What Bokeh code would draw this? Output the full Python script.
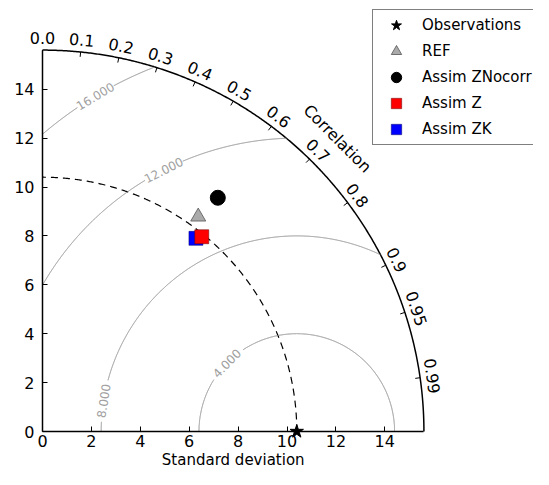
import numpy as np
from bokeh.plotting import figure
from bokeh.models import Range1d, FixedTicker, Legend, LegendItem, Label
from bokeh.core.properties import value
from bokeh.embed import file_html
from bokeh.resources import INLINE

# ---- data ----
obs_name = "Observations"
obs_std = 10.4
model_names = ["REF", "Assim ZNocorr", "Assim Z", "Assim ZK"]
model_std = [10.85, 11.95, 10.29, 10.09]
model_corr = [0.587, 0.600, 0.633, 0.622]
std_ticks = [0, 2, 4, 6, 8, 10, 12, 14]
corr_ticks = [0.0, 0.1, 0.2, 0.3, 0.4, 0.5, 0.6, 0.7, 0.8, 0.9, 0.95, 0.99]
corr_tick_labels = ["0.0", "0.1", "0.2", "0.3", "0.4", "0.5", "0.6", "0.7",
                    "0.8", "0.9", "0.95", "0.99"]
rms_levels = [4, 8, 12, 16]
rms_labels = ["4.000", "8.000", "12.000", "16.000"]
rms_label_pos_deg = [135.7, 171.0, 117.0, 121.0]  # where the contour labels sit

# ---- layout ----
FONT = "DejaVu Sans"
PX = 24.45
W, H = 533, 469
X0, Y0 = 42, 431          # pixel position of the origin inside the canvas
smax = 1.5 * obs_std

p = figure(width=W, height=H,
           x_range=Range1d(-X0 / PX, (W - X0) / PX),
           y_range=Range1d(-(H - Y0) / PX, Y0 / PX),
           output_backend="svg", toolbar_location=None,
           min_border_left=0, min_border_bottom=0,
           min_border_top=0, min_border_right=0)
p.grid.visible = False
p.outline_line_color = None
p.background_fill_color = "white"
p.border_fill_color = "white"

for ax in (p.xaxis[0], p.yaxis[0]):
    ax.fixed_location = 0
    ax.bounds = (0, smax)
    ax.ticker = FixedTicker(ticks=std_ticks)
    ax.major_tick_in = 5
    ax.major_tick_out = 0
    ax.minor_tick_in = 0
    ax.minor_tick_out = 0
    ax.axis_line_width = 1.5
    ax.major_tick_line_width = 1
    ax.major_label_text_font = FONT
    ax.major_label_text_font_size = "16px"
    ax.major_label_text_color = "black"
p.xaxis.major_label_standoff = 3
p.yaxis.major_label_standoff = 8

# outer arc
th = np.linspace(0, np.pi / 2, 400)
p.line(smax * np.cos(th), smax * np.sin(th), line_color="black", line_width=1.5)

# observation std arc
p.line(obs_std * np.cos(th), obs_std * np.sin(th), line_color="black",
       line_width=1.2, line_dash="7 5")

# RMS contours
ang = np.linspace(0, np.pi, 4001)
lx, ly, lang = [], [], []
for R, pos in zip(rms_levels, rms_label_pos_deg):
    x = obs_std + R * np.cos(ang)
    y = R * np.sin(ang)
    ok = (x >= 0) & (x ** 2 + y ** 2 <= smax ** 2)
    gap = 21.0 / (R * PX)
    ok &= np.abs(ang - np.radians(pos)) > gap
    xs = np.where(ok, x, np.nan)
    ys = np.where(ok, y, np.nan)
    p.line(xs, ys, line_color="#8a8a8a", line_width=1)
    a = np.radians(pos)
    lx.append(obs_std + R * np.cos(a))
    ly.append(R * np.sin(a))
    lang.append(a - np.pi / 2)
p.text(x=lx, y=ly, text=rms_labels, angle=lang, text_font=value(FONT),
       text_font_size="12px", text_color="#a0a0a0", text_align="center",
       text_baseline="middle")

# correlation ticks and labels
ct = np.arccos(np.array(corr_ticks))
p.segment(x0=smax * np.cos(ct), y0=smax * np.sin(ct),
          x1=(smax - 0.2) * np.cos(ct), y1=(smax - 0.2) * np.sin(ct),
          line_color="black", line_width=1)
rl = smax + 0.5
for t, lab in zip(ct, corr_tick_labels):
    p.add_layout(Label(x=rl * np.cos(t), y=rl * np.sin(t), text=lab,
                       angle=t - np.pi / 2, text_font=FONT, text_font_size="16px",
                       text_align="center", text_baseline="middle",
                       text_color="black"))
ca = np.radians(44.8)
p.add_layout(Label(x=17.0 * np.cos(ca), y=17.0 * np.sin(ca), text="Correlation",
                   angle=ca - np.pi / 2, text_font=FONT, text_font_size="16px",
                   text_align="center", text_baseline="middle", text_color="black"))
p.add_layout(Label(x=smax / 2, y=-(H - 1 - Y0) / PX, text="Standard deviation",
                   text_font=FONT, text_font_size="15px", text_color="black",
                   text_align="center", text_baseline="bottom"))

# points
mx = [s * c for s, c in zip(model_std, model_corr)]
my = [s * np.sqrt(1 - c * c) for s, c in zip(model_std, model_corr)]
r_obs = p.scatter([obs_std], [0], marker="star", size=14, fill_color="black",
                  line_color="black")
r_zk = p.scatter([mx[3]], [my[3]], marker="square", size=14, fill_color="#0000ff",
                 line_color="#000066", line_width=0.5)
r_z = p.scatter([mx[2]], [my[2]], marker="square", size=14, fill_color="#ff0000",
                line_color="#660000", line_width=0.5)
r_ref = p.scatter([mx[0]], [my[0]], marker="triangle", size=15, fill_color="#aaaaaa",
                  line_color="#555555", line_width=0.8)
r_zn = p.scatter([mx[1]], [my[1]], marker="circle", size=15, fill_color="black",
                 line_color="black")

legend = Legend(items=[LegendItem(label=obs_name, renderers=[r_obs]),
                       LegendItem(label=model_names[0], renderers=[r_ref]),
                       LegendItem(label=model_names[1], renderers=[r_zn]),
                       LegendItem(label=model_names[2], renderers=[r_z]),
                       LegendItem(label=model_names[3], renderers=[r_zk])],
                location=(372, 324), orientation="vertical")
legend.label_text_font = FONT
legend.label_text_font_size = "15px"
legend.label_text_color = "black"
legend.border_line_color = "black"
legend.border_line_width = 1
legend.background_fill_alpha = 1
legend.padding = 2
legend.spacing = 0
legend.glyph_height = 26
legend.glyph_width = 42
legend.label_height = 26
legend.label_standoff = 5
legend.margin = 0
p.add_layout(legend)

open("out.html", "w").write(file_html(p, INLINE))
